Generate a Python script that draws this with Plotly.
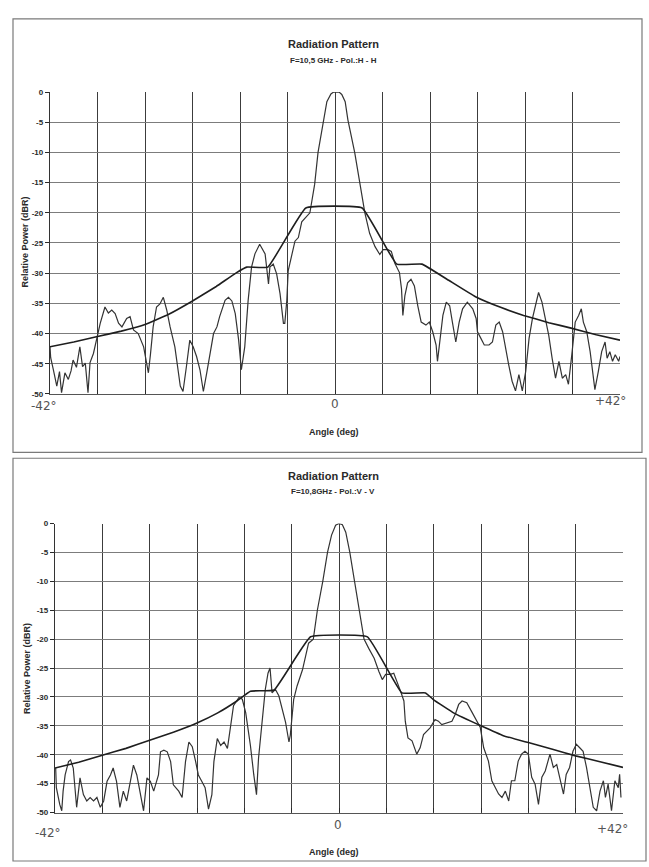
import plotly.graph_objects as go

# ---------------- data ----------------
# Top panel: F=10,5 GHz, Pol. H-H
top_meas_angle = [
    -42.0, -41.9, -41.5, -41.0, -40.6, -40.3, -39.8, -39.3, -38.9, -38.6, -38.1, -37.6, -37.2, -36.8,
    -36.4, -36.1, -35.6, -35.0, -34.6, -33.9, -33.4, -32.9, -32.4, -31.9, -31.4, -30.7, -30.2, -29.7,
    -29.0, -28.2, -27.8, -27.5, -27.2, -26.8, -26.3, -25.8, -25.3, -24.8, -24.3, -23.6, -22.8, -22.4,
    -21.9, -21.4, -20.9, -20.4, -19.9, -19.4, -18.9, -18.4, -17.9, -17.4, -17.0, -16.2, -15.7, -15.2,
    -14.7, -14.2, -13.8, -13.3, -12.8, -12.3, -11.8, -11.1, -10.3, -9.8, -9.6, -9.1, -8.6, -8.1,
    -7.6, -7.4, -7.1, -6.9, -6.4, -5.9, -5.4, -4.9,
    -3.7, -3.0, -2.5, -1.7, -1.2, -0.6, -0.2, 0.6, 1.0, 1.5, 1.9, 2.9, 3.7, 4.4,
    5.1, 5.9, 6.6, 7.1, 7.8, 8.3, 8.8, 9.5, 9.8, 10.0, 10.3, 10.7, 11.2, 11.7, 12.2, 12.7, 13.4,
    13.9, 14.4, 14.9, 15.1, 15.4, 15.9, 16.4, 16.9, 17.3, 17.8, 18.3, 18.8, 19.5, 20.3, 20.8, 21.0,
    21.5, 22.0, 22.7, 23.2, 23.7, 24.2, 24.7, 25.2, 25.6, 26.1, 26.6, 27.1, 27.6, 28.1, 28.6, 29.1,
    29.6, 30.0, 30.5, 31.0, 31.5, 32.0, 32.5, 33.0, 33.5, 34.0, 34.4, 34.9, 35.4, 35.9, 36.3, 36.6,
    37.1, 37.6, 38.1, 38.3, 38.8, 39.3, 39.8, 40.1, 40.5, 40.9, 41.3, 41.8, 42.0,
]
top_meas_db = [
    -42.2, -44.0, -46.0, -48.7, -46.3, -49.8, -46.5, -47.6, -46.2, -44.4, -45.6, -42.2, -45.5, -44.9,
    -49.8, -44.8, -43.3, -40.0, -38.3, -35.6, -36.6, -36.1, -36.7, -38.3, -38.9, -37.5, -37.2, -39.4,
    -40.0, -42.2, -44.9, -46.5, -43.5, -38.9, -35.6, -35.1, -34.0, -36.1, -38.9, -42.2, -48.7, -49.6,
    -45.5, -41.1, -42.2, -43.8, -46.0, -49.6, -46.5, -43.3, -40.0, -38.9, -37.2, -34.5, -34.0, -34.6,
    -36.7, -41.1, -46.0, -42.2, -34.5, -29.0, -26.8, -25.2, -26.8, -31.8, -29.0, -28.5, -30.1, -33.4,
    -38.3, -38.3, -34.5, -29.6, -27.4, -24.7, -24.1, -21.5,
    -20.0, -15.3, -10.0, -4.6, -1.6, -0.3, 0.0, 0.0, -0.4, -1.6, -4.6, -10.0, -15.3, -20.0,
    -23.4, -25.6, -26.9, -26.1, -26.1, -26.4, -28.3, -29.9, -32.6, -37.0, -33.7, -31.6, -31.0, -32.1,
    -35.4, -38.1, -38.6, -38.1, -39.7, -41.9, -44.6, -41.5, -37.0, -34.8, -35.4, -38.1, -41.4, -38.1,
    -35.9, -34.8, -35.9, -37.5, -39.7, -40.8, -41.9, -41.9, -41.4, -38.6, -38.1, -39.7, -43.0, -45.2,
    -47.9, -49.5, -46.8, -49.5, -46.3, -40.8, -37.5, -34.8, -33.2, -34.8, -37.5, -40.3, -44.1, -47.4,
    -44.6, -47.4, -46.8, -48.4, -43.5, -38.1, -37.0, -35.9, -38.1, -39.7, -43.0, -47.4, -49.3, -46.3,
    -43.0, -41.4, -44.1, -43.0, -44.6, -43.5, -44.6, -43.8,
]
top_env_angle = [-42, -38.5, -35, -31.5, -28, -24.5, -21, -17.5, -14.5, -13, -9.9, -4.3,
                 4.0, 9.1, 12.8, 16.5, 20.7, 24.5, 27.8, 31.5, 34.8, 38.5, 42]
top_env_db = [-42.2, -41.4, -40.5, -39.6, -38.5, -36.8, -34.6, -32.2, -29.9, -29.0, -29.0, -19.2,
              -19.2, -28.5, -28.5, -31.0, -33.9, -35.7, -37.0, -38.2, -39.1, -40.2, -41.1]

# Bottom panel: F=10,8 GHz, Pol. V-V
bot_meas_angle = [
    -41.9, -41.8, -41.3, -41.0, -40.8, -40.5, -40.0, -39.7, -39.3, -38.8, -38.3, -37.8, -37.3, -36.8,
    -36.3, -35.8, -35.3, -34.8, -34.3, -33.8, -33.4, -32.9, -32.4, -31.9, -31.4, -30.9, -30.4, -29.9,
    -29.4, -28.9, -28.4, -27.9, -27.4, -26.7, -26.4, -25.9, -25.4, -24.9, -24.5, -23.7, -23.2, -22.7,
    -22.2, -21.7, -21.2, -20.8, -20.3, -19.8, -19.3, -18.8, -18.5, -18.0, -17.5, -17.0, -16.5, -16.1,
    -15.6, -14.8, -14.3, -13.8, -13.1, -12.6, -12.2, -11.9, -11.4, -10.9, -10.5, -10.2, -9.9, -9.4,
    -8.9, -8.4, -7.9, -7.4, -7.2, -6.7, -6.2, -5.4, -4.9, -4.5,
    -3.8, -3.2, -2.4, -1.7, -1.1, -0.5, 0.0, 0.5, 1.0, 1.6, 2.3, 3.0, 3.7,
    4.4, 5.2, 5.9, 6.4, 6.9, 7.6, 8.1, 8.6, 9.1, 9.6, 9.8, 10.2, 10.8, 11.5, 12.0, 12.5, 13.0, 13.5,
    14.2, 14.7, 15.2, 16.0, 16.7, 17.2, 17.7, 18.2, 18.9, 19.6, 20.4, 20.9, 21.4, 22.1, 22.6, 23.1,
    23.6, 24.1, 24.6, 25.1, 25.5, 26.0, 26.5, 27.0, 27.5, 28.0, 28.5, 29.0, 29.5, 30.0, 30.5, 31.2,
    31.7, 32.2, 32.7, 33.2, 33.6, 34.1, 34.6, 35.1, 35.6, 36.1, 36.6, 37.1, 37.6, 38.1, 38.6, 39.1,
    39.4, 39.8, 40.3, 40.8, 41.3, 41.5, 41.7,
]
bot_meas_db = [
    -42.3, -45.7, -48.6, -49.7, -46.3, -43.5, -41.2, -40.9, -42.3, -49.1, -44.0, -46.9, -48.0, -47.4,
    -48.0, -47.4, -49.1, -48.0, -44.6, -43.5, -42.3, -44.6, -49.1, -46.3, -48.0, -45.2, -41.8, -43.5,
    -46.9, -49.7, -44.0, -44.6, -46.3, -43.5, -39.5, -39.2, -39.5, -41.2, -45.2, -46.3, -47.4, -41.2,
    -37.8, -38.6, -41.2, -43.5, -44.6, -45.7, -49.4, -46.9, -41.2, -37.2, -38.4, -37.8, -38.9, -35.5,
    -31.5, -30.1, -30.4, -32.7, -38.4, -43.5, -46.9, -40.6, -34.4, -28.7, -25.9, -25.0, -29.3, -28.7,
    -29.8, -32.1, -34.4, -37.8, -36.6, -30.4, -28.1, -25.3, -23.0, -20.7,
    -20.0, -15.0, -10.0, -5.0, -2.0, -0.3, 0.0, -0.2, -1.5, -5.0, -10.0, -15.0, -20.0,
    -21.6, -23.3, -25.6, -27.0, -26.1, -26.1, -25.9, -27.3, -29.0, -30.7, -34.2, -37.1, -37.6, -39.9,
    -38.8, -36.5, -35.9, -35.3, -33.9, -34.2, -34.8, -34.5, -34.2, -33.0, -31.3, -30.7, -31.0, -32.5,
    -34.2, -35.3, -38.8, -41.1, -44.5, -45.7, -46.8, -47.4, -46.3, -48.0, -44.5, -44.5, -41.1, -39.9,
    -39.4, -39.9, -43.9, -45.1, -48.6, -43.9, -42.8, -39.9, -42.2, -41.7, -44.5, -46.8, -43.4, -42.2,
    -39.4, -38.2, -38.8, -39.4, -42.2, -45.7, -49.1, -49.7, -46.3, -44.5, -47.4, -45.1, -49.7, -44.5,
    -45.7, -43.4, -47.4,
]
bot_env_angle = [-42, -38.5, -35, -31.5, -28, -24.5, -21, -18, -15.1, -13.1, -9.6, -4.2,
                 4.2, 9.3, 12.8, 14.0, 17.0, 21.0, 24.3, 28.0, 31.7, 35.0, 38.6, 42]
bot_env_db = [-42.3, -41.3, -40.1, -38.9, -37.5, -36.1, -34.5, -32.8, -30.7, -29.0, -28.8, -19.6,
              -19.6, -29.3, -29.3, -30.5, -32.8, -35.0, -36.7, -37.9, -39.1, -40.2, -41.2, -42.2]

y_ticks = [0, -5, -10, -15, -20, -25, -30, -35, -40, -45, -50]
y_tick_text = ["0", "-5", "-10", "-15", "-20", "-25", "-30", "-35", "-40", "-45", "-50"]
x_ticks = [-42, -35, -28, -21, -14, -7, 0, 7, 14, 21, 28, 35, 42]

titles = ["Radiation Pattern", "Radiation Pattern"]
subtitles = ["F=10,5 GHz - Pol.:H - H", "F=10,8GHz - Pol.:V - V"]
hand_labels = ["-42°", "0", "+42°"]

# ---------------- figure ----------------
W, H = 649, 867
FONT = "Liberation Sans Narrow, Liberation Sans, Arial, sans-serif"
INK = "#2a2a2a"

def py(pix):
    return 1 - pix / H

def px(pix):
    return pix / W

fig = go.Figure()
fig.add_trace(go.Scatter(x=top_meas_angle, y=top_meas_db, mode="lines",
                         line=dict(color="#333333", width=1.2), xaxis="x", yaxis="y",
                         showlegend=False))
fig.add_trace(go.Scatter(x=top_env_angle, y=top_env_db, mode="lines",
                         line=dict(color="#1e1e1e", width=1.6, shape="spline", smoothing=0.3),
                         xaxis="x", yaxis="y", showlegend=False))
fig.add_trace(go.Scatter(x=bot_meas_angle, y=bot_meas_db, mode="lines",
                         line=dict(color="#333333", width=1.2), xaxis="x2", yaxis="y2",
                         showlegend=False))
fig.add_trace(go.Scatter(x=bot_env_angle, y=bot_env_db, mode="lines",
                         line=dict(color="#1e1e1e", width=1.6, shape="spline", smoothing=0.3),
                         xaxis="x2", yaxis="y2", showlegend=False))

panels = [
    dict(x0=50, x1=620, y0=89, y1=394),
    dict(x0=55, x1=623, y0=525, y1=817),
]

def xax(p, anchor):
    return dict(domain=[px(p["x0"]), px(p["x1"])], range=[-42, 42], anchor=anchor,
                tickmode="array", tickvals=x_ticks, showticklabels=False,
                ticks="inside", ticklen=4, tickcolor=INK,
                showgrid=True, gridcolor="#3c3c3c", gridwidth=1,
                showline=True, linecolor="#555555", linewidth=1.2,
                zeroline=False, fixedrange=True)

def yax(p, anchor):
    return dict(domain=[py(p["y1"]), py(p["y0"])], range=[-50, 0], anchor=anchor,
                tickmode="array", tickvals=y_ticks,
                ticktext=["<b>" + t + "</b>" for t in y_tick_text],
                tickfont=dict(family=FONT, size=8, color=INK),
                ticks="outside", ticklen=4, tickcolor=INK,
                showgrid=True, gridcolor="#7c7c7c", gridwidth=1.4,
                showline=True, linecolor="#333333", linewidth=1.4,
                zeroline=False, fixedrange=True)

fig.update_layout(
    width=W, height=H,
    margin=dict(l=0, r=0, t=0, b=0),
    paper_bgcolor="white", plot_bgcolor="white",
    xaxis=xax(panels[0], "y"), yaxis=yax(panels[0], "x"),
    xaxis2=xax(panels[1], "y2"), yaxis2=yax(panels[1], "x2"),
)

# frames of the two scanned panels
fig.add_shape(type="rect", xref="paper", yref="paper",
              x0=px(13), x1=px(642), y0=py(453), y1=py(15),
              line=dict(color="#7a7a7a", width=1.2))
fig.add_shape(type="rect", xref="paper", yref="paper",
              x0=px(13), x1=px(646), y0=py(866), y1=py(459),
              line=dict(color="#7a7a7a", width=1.2))

ann = []
title_y = [(40, 57), (477, 493)]
axis_title_y = [432, 857]
ylabel_pos = [(25, 241), (27, 672)]
hand_pos = [[(44, 406), (335, 404), (610, 401)], [(48, 838), (338, 830), (612, 834)]]
common = dict(xref="paper", yref="paper", showarrow=False, xanchor="center", yanchor="middle")
for i in range(2):
    ann.append(dict(text="<b>" + titles[i] + "</b>", x=px(333), y=py(title_y[i][0]),
                    font=dict(family=FONT, size=11, color=INK), **common))
    ann.append(dict(text="<b>" + subtitles[i] + "</b>", x=px(333), y=py(title_y[i][1]),
                    font=dict(family=FONT, size=8, color=INK), **common))
    ann.append(dict(text="<b>Angle (deg)</b>", x=px(334), y=py(axis_title_y[i]),
                    font=dict(family=FONT, size=9, color=INK), **common))
    ann.append(dict(text="<b>Relative Power (dBR)</b>", x=px(ylabel_pos[i][0]),
                    y=py(ylabel_pos[i][1]), textangle=-90,
                    font=dict(family=FONT, size=9, color=INK), **common))
    for lbl, (hx, hy) in zip(hand_labels, hand_pos[i]):
        ann.append(dict(text=lbl, x=px(hx), y=py(hy),
                        font=dict(family="DejaVu Sans, sans-serif", size=12, color="#555555"),
                        **common))
fig.update_layout(annotations=ann)

fig.write_html(
    "out.html",
    config={"displayModeBar": False},
    post_script="document.body.style.margin='0';document.body.style.padding='0';"
                "document.documentElement.style.overflow='hidden';",
)
